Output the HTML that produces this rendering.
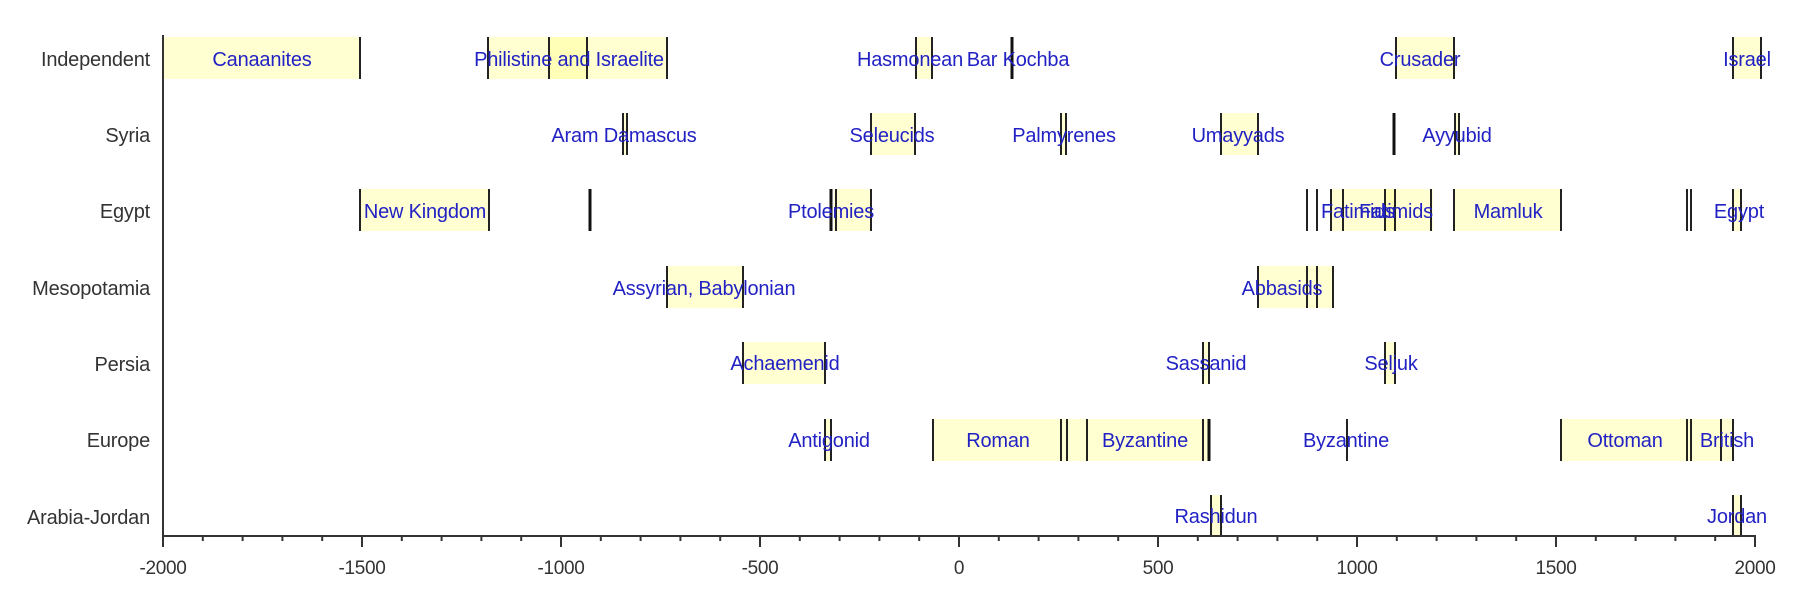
<!DOCTYPE html>
<html><head><meta charset="utf-8"><style>
html,body{margin:0;padding:0;background:#fff;}
svg{display:block;}
.l{font-family:"Liberation Sans",sans-serif;font-size:20px;fill:#2222c4;letter-spacing:-0.2px;text-anchor:middle;}
.r{font-family:"Liberation Sans",sans-serif;font-size:20px;fill:#333;letter-spacing:-0.2px;text-anchor:end;}
.t{font-family:"Liberation Sans",sans-serif;font-size:19px;fill:#333;letter-spacing:-0.3px;text-anchor:middle;}
.f{fill:#ffff99;fill-opacity:0.45;}
.k{stroke:#222;stroke-width:2;}
.K{stroke:#111;stroke-width:3;}
</style></head><body>
<svg width="1809" height="605" viewBox="0 0 1809 605" xmlns="http://www.w3.org/2000/svg">
<g>
<rect class="f" x="163" y="37" width="197" height="42"/>
<rect class="f" x="488" y="37" width="179" height="42"/>
<rect class="f" x="549" y="37" width="38" height="42"/>
<rect class="f" x="916" y="37" width="16" height="42"/>
<rect class="f" x="1396" y="37" width="58" height="42"/>
<rect class="f" x="1733" y="37" width="28" height="42"/>
<line class="k" x1="360" y1="37" x2="360" y2="79"/>
<line class="k" x1="488" y1="37" x2="488" y2="79"/>
<line class="k" x1="549" y1="37" x2="549" y2="79"/>
<line class="k" x1="587" y1="37" x2="587" y2="79"/>
<line class="k" x1="667" y1="37" x2="667" y2="79"/>
<line class="k" x1="916" y1="37" x2="916" y2="79"/>
<line class="k" x1="932" y1="37" x2="932" y2="79"/>
<line class="K" x1="1012" y1="37" x2="1012" y2="79"/>
<line class="k" x1="1396" y1="37" x2="1396" y2="79"/>
<line class="k" x1="1454" y1="37" x2="1454" y2="79"/>
<line class="k" x1="1733" y1="37" x2="1733" y2="79"/>
<line class="k" x1="1761" y1="37" x2="1761" y2="79"/>
<text class="l" x="262" y="66">Canaanites</text>
<text class="l" x="569" y="66">Philistine and Israelite</text>
<text class="l" x="910" y="66">Hasmonean</text>
<text class="l" x="1018" y="66">Bar Kochba</text>
<text class="l" x="1420" y="66">Crusader</text>
<text class="l" x="1747" y="66">Israel</text>
</g>
<g>
<rect class="f" x="623" y="113" width="4" height="42"/>
<rect class="f" x="871" y="113" width="44" height="42"/>
<rect class="f" x="1061" y="113" width="5" height="42"/>
<rect class="f" x="1221" y="113" width="37" height="42"/>
<rect class="f" x="1455" y="113" width="4" height="42"/>
<line class="k" x1="623" y1="113" x2="623" y2="155"/>
<line class="k" x1="627" y1="113" x2="627" y2="155"/>
<line class="k" x1="871" y1="113" x2="871" y2="155"/>
<line class="k" x1="915" y1="113" x2="915" y2="155"/>
<line class="k" x1="1061" y1="113" x2="1061" y2="155"/>
<line class="k" x1="1066" y1="113" x2="1066" y2="155"/>
<line class="k" x1="1221" y1="113" x2="1221" y2="155"/>
<line class="k" x1="1258" y1="113" x2="1258" y2="155"/>
<line class="K" x1="1394" y1="113" x2="1394" y2="155"/>
<line class="k" x1="1455" y1="113" x2="1455" y2="155"/>
<line class="k" x1="1459" y1="113" x2="1459" y2="155"/>
<text class="l" x="624" y="142">Aram Damascus</text>
<text class="l" x="892" y="142">Seleucids</text>
<text class="l" x="1064" y="142">Palmyrenes</text>
<text class="l" x="1238" y="142">Umayyads</text>
<text class="l" x="1457" y="142">Ayyubid</text>
</g>
<g>
<rect class="f" x="360" y="189" width="129" height="42"/>
<rect class="f" x="834" y="189" width="37" height="42"/>
<rect class="f" x="1331" y="189" width="102" height="42"/>
<rect class="f" x="1385" y="189" width="10" height="42"/>
<rect class="f" x="1454" y="189" width="107" height="42"/>
<rect class="f" x="1733" y="189" width="8" height="42"/>
<line class="k" x1="360" y1="189" x2="360" y2="231"/>
<line class="k" x1="489" y1="189" x2="489" y2="231"/>
<line class="K" x1="590" y1="189" x2="590" y2="231"/>
<line class="K" x1="831" y1="189" x2="831" y2="231"/>
<line class="k" x1="836" y1="189" x2="836" y2="231"/>
<line class="k" x1="871" y1="189" x2="871" y2="231"/>
<line class="k" x1="1307" y1="189" x2="1307" y2="231"/>
<line class="k" x1="1317" y1="189" x2="1317" y2="231"/>
<line class="k" x1="1331" y1="189" x2="1331" y2="231"/>
<line class="k" x1="1343" y1="189" x2="1343" y2="231"/>
<line class="k" x1="1385" y1="189" x2="1385" y2="231"/>
<line class="k" x1="1395" y1="189" x2="1395" y2="231"/>
<line class="k" x1="1431" y1="189" x2="1431" y2="231"/>
<line class="k" x1="1454" y1="189" x2="1454" y2="231"/>
<line class="k" x1="1561" y1="189" x2="1561" y2="231"/>
<line class="k" x1="1687" y1="189" x2="1687" y2="231"/>
<line class="k" x1="1691" y1="189" x2="1691" y2="231"/>
<line class="k" x1="1733" y1="189" x2="1733" y2="231"/>
<line class="k" x1="1741" y1="189" x2="1741" y2="231"/>
<text class="l" x="425" y="218">New Kingdom</text>
<text class="l" x="831" y="218">Ptolemies</text>
<text class="l" x="1358" y="218">Fatimids</text>
<text class="l" x="1396" y="218">Fatimids</text>
<text class="l" x="1508" y="218">Mamluk</text>
<text class="l" x="1739" y="218">Egypt</text>
</g>
<g>
<rect class="f" x="667" y="266" width="76" height="42"/>
<rect class="f" x="1258" y="266" width="75" height="42"/>
<line class="k" x1="667" y1="266" x2="667" y2="308"/>
<line class="k" x1="743" y1="266" x2="743" y2="308"/>
<line class="k" x1="1258" y1="266" x2="1258" y2="308"/>
<line class="k" x1="1307" y1="266" x2="1307" y2="308"/>
<line class="k" x1="1317" y1="266" x2="1317" y2="308"/>
<line class="k" x1="1333" y1="266" x2="1333" y2="308"/>
<text class="l" x="704" y="295">Assyrian, Babylonian</text>
<text class="l" x="1282" y="295">Abbasids</text>
</g>
<g>
<rect class="f" x="743" y="342" width="82" height="42"/>
<rect class="f" x="1203" y="342" width="6" height="42"/>
<rect class="f" x="1385" y="342" width="10" height="42"/>
<line class="k" x1="743" y1="342" x2="743" y2="384"/>
<line class="k" x1="825" y1="342" x2="825" y2="384"/>
<line class="k" x1="1203" y1="342" x2="1203" y2="384"/>
<line class="k" x1="1209" y1="342" x2="1209" y2="384"/>
<line class="k" x1="1385" y1="342" x2="1385" y2="384"/>
<line class="k" x1="1395" y1="342" x2="1395" y2="384"/>
<text class="l" x="785" y="370">Achaemenid</text>
<text class="l" x="1206" y="370">Sassanid</text>
<text class="l" x="1391" y="370">Seljuk</text>
</g>
<g>
<rect class="f" x="825" y="419" width="6" height="42"/>
<rect class="f" x="933" y="419" width="276" height="42"/>
<rect class="f" x="1561" y="419" width="172" height="42"/>
<line class="k" x1="825" y1="419" x2="825" y2="461"/>
<line class="k" x1="831" y1="419" x2="831" y2="461"/>
<line class="k" x1="933" y1="419" x2="933" y2="461"/>
<line class="k" x1="1061" y1="419" x2="1061" y2="461"/>
<line class="k" x1="1067" y1="419" x2="1067" y2="461"/>
<line class="k" x1="1087" y1="419" x2="1087" y2="461"/>
<line class="k" x1="1203" y1="419" x2="1203" y2="461"/>
<line class="K" x1="1209" y1="419" x2="1209" y2="461"/>
<line class="k" x1="1347" y1="419" x2="1347" y2="461"/>
<line class="k" x1="1561" y1="419" x2="1561" y2="461"/>
<line class="k" x1="1687" y1="419" x2="1687" y2="461"/>
<line class="k" x1="1691" y1="419" x2="1691" y2="461"/>
<line class="k" x1="1721" y1="419" x2="1721" y2="461"/>
<line class="k" x1="1733" y1="419" x2="1733" y2="461"/>
<text class="l" x="829" y="447">Antigonid</text>
<text class="l" x="998" y="447">Roman</text>
<text class="l" x="1145" y="447">Byzantine</text>
<text class="l" x="1346" y="447">Byzantine</text>
<text class="l" x="1625" y="447">Ottoman</text>
<text class="l" x="1727" y="447">British</text>
</g>
<g>
<rect class="f" x="1211" y="495" width="10" height="41"/>
<rect class="f" x="1733" y="495" width="8" height="41"/>
<line class="k" x1="1211" y1="495" x2="1211" y2="536"/>
<line class="k" x1="1221" y1="495" x2="1221" y2="536"/>
<line class="k" x1="1733" y1="495" x2="1733" y2="536"/>
<line class="k" x1="1741" y1="495" x2="1741" y2="536"/>
<text class="l" x="1216" y="523">Rashidun</text>
<text class="l" x="1737" y="523">Jordan</text>
</g>
<text class="r" x="150" y="66">Independent</text>
<text class="r" x="150" y="142">Syria</text>
<text class="r" x="150" y="218">Egypt</text>
<text class="r" x="150" y="295">Mesopotamia</text>
<text class="r" x="150" y="371">Persia</text>
<text class="r" x="150" y="447">Europe</text>
<text class="r" x="150" y="524">Arabia-Jordan</text>
<line x1="163" y1="35" x2="163" y2="537" stroke="#333" stroke-width="2"/>
<line x1="162" y1="536" x2="1756" y2="536" stroke="#333" stroke-width="2"/>
<g stroke="#333" stroke-width="2">
<line x1="163" y1="536" x2="163" y2="547"/><line x1="202.8" y1="536" x2="202.8" y2="541"/><line x1="242.6" y1="536" x2="242.6" y2="541"/><line x1="282.4" y1="536" x2="282.4" y2="541"/><line x1="322.2" y1="536" x2="322.2" y2="541"/>
<line x1="362" y1="536" x2="362" y2="547"/><line x1="401.8" y1="536" x2="401.8" y2="541"/><line x1="441.6" y1="536" x2="441.6" y2="541"/><line x1="481.4" y1="536" x2="481.4" y2="541"/><line x1="521.2" y1="536" x2="521.2" y2="541"/>
<line x1="561" y1="536" x2="561" y2="547"/><line x1="600.8" y1="536" x2="600.8" y2="541"/><line x1="640.6" y1="536" x2="640.6" y2="541"/><line x1="680.4" y1="536" x2="680.4" y2="541"/><line x1="720.2" y1="536" x2="720.2" y2="541"/>
<line x1="760" y1="536" x2="760" y2="547"/><line x1="799.8" y1="536" x2="799.8" y2="541"/><line x1="839.6" y1="536" x2="839.6" y2="541"/><line x1="879.4" y1="536" x2="879.4" y2="541"/><line x1="919.2" y1="536" x2="919.2" y2="541"/>
<line x1="959" y1="536" x2="959" y2="547"/><line x1="998.8" y1="536" x2="998.8" y2="541"/><line x1="1038.6" y1="536" x2="1038.6" y2="541"/><line x1="1078.4" y1="536" x2="1078.4" y2="541"/><line x1="1118.2" y1="536" x2="1118.2" y2="541"/>
<line x1="1158" y1="536" x2="1158" y2="547"/><line x1="1197.8" y1="536" x2="1197.8" y2="541"/><line x1="1237.6" y1="536" x2="1237.6" y2="541"/><line x1="1277.4" y1="536" x2="1277.4" y2="541"/><line x1="1317.2" y1="536" x2="1317.2" y2="541"/>
<line x1="1357" y1="536" x2="1357" y2="547"/><line x1="1396.8" y1="536" x2="1396.8" y2="541"/><line x1="1436.6" y1="536" x2="1436.6" y2="541"/><line x1="1476.4" y1="536" x2="1476.4" y2="541"/><line x1="1516.2" y1="536" x2="1516.2" y2="541"/>
<line x1="1556" y1="536" x2="1556" y2="547"/><line x1="1595.8" y1="536" x2="1595.8" y2="541"/><line x1="1635.6" y1="536" x2="1635.6" y2="541"/><line x1="1675.4" y1="536" x2="1675.4" y2="541"/><line x1="1715.2" y1="536" x2="1715.2" y2="541"/>
<line x1="1755" y1="536" x2="1755" y2="547"/>
</g>
<text class="t" x="163" y="574">-2000</text>
<text class="t" x="362" y="574">-1500</text>
<text class="t" x="561" y="574">-1000</text>
<text class="t" x="760" y="574">-500</text>
<text class="t" x="959" y="574">0</text>
<text class="t" x="1158" y="574">500</text>
<text class="t" x="1357" y="574">1000</text>
<text class="t" x="1556" y="574">1500</text>
<text class="t" x="1755" y="574">2000</text>
</svg>
</body></html>
